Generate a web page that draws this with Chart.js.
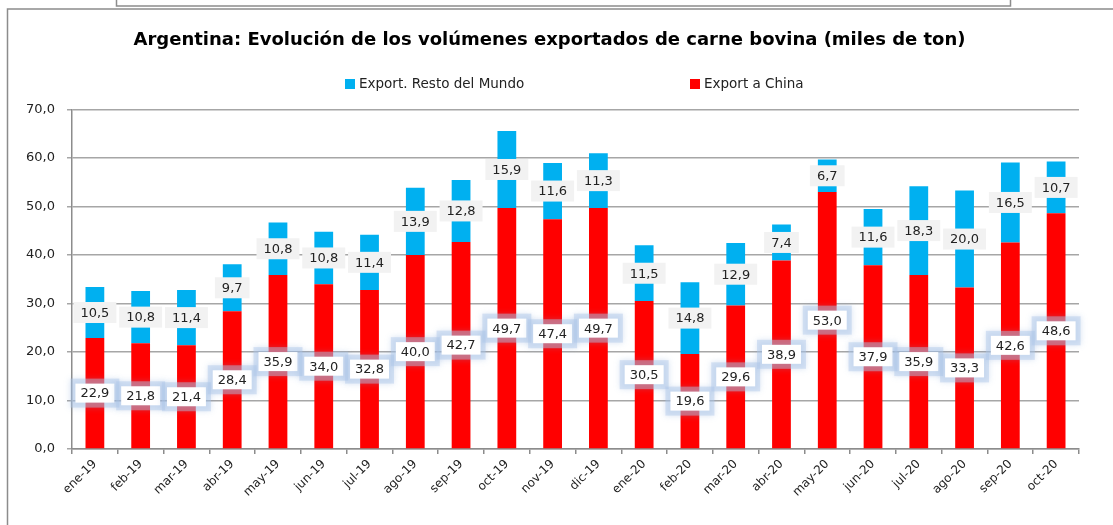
<!DOCTYPE html>
<html>
<head>
<meta charset="utf-8">
<script src="https://cdn.jsdelivr.net/npm/chart.js@4"></script>
<style>
  html, body { margin: 0; padding: 0; background: #fff; }
  #wrap { position: relative; width: 1113px; height: 525px; }
</style>
</head>
<body>
<div id="wrap"><canvas id="exportChart" width="1113" height="525"></canvas></div>
<script>
const months = ['ene-19', 'feb-19', 'mar-19', 'abr-19', 'may-19', 'jun-19', 'jul-19', 'ago-19', 'sep-19', 'oct-19', 'nov-19', 'dic-19',
                'ene-20', 'feb-20', 'mar-20', 'abr-20', 'may-20', 'jun-20', 'jul-20', 'ago-20', 'sep-20', 'oct-20'];
const exportChina = [22.9, 21.8, 21.4, 28.4, 35.9, 34.0, 32.8, 40.0, 42.7, 49.7, 47.4, 49.7,
                     30.5, 19.6, 29.6, 38.9, 53.0, 37.9, 35.9, 33.3, 42.6, 48.6];
const exportResto = [10.5, 10.8, 11.4, 9.7, 10.8, 10.8, 11.4, 13.9, 12.8, 15.9, 11.6, 11.3,
                     11.5, 14.8, 12.9, 7.4, 6.7, 11.6, 18.3, 20.0, 16.5, 10.7];
const yTicks = [0, 10, 20, 30, 40, 50, 60, 70];

const FONT = 'DejaVu Sans, Verdana, sans-serif';
const fmt = v => v.toFixed(1).replace('.', ',');

// frame, legend and value boxes
const decor = {
    id: 'decor',
    beforeDraw(chart) {
        const ctx = chart.ctx;
        ctx.save();
        ctx.fillStyle = '#fff';
        ctx.fillRect(0, 0, chart.width, chart.height);
        ctx.strokeStyle = '#8c8c8c';
        ctx.lineWidth = 1.5;
        ctx.strokeRect(7.5, 9, chart.width + 10, chart.height + 10);
        ctx.beginPath();
        ctx.moveTo(116.5, -2);
        ctx.lineTo(116.5, 6);
        ctx.lineTo(1010.5, 6);
        ctx.lineTo(1010.5, -2);
        ctx.stroke();
        ctx.restore();
    },
    afterDraw(chart) {
        const ctx = chart.ctx;
        ctx.save();
        // legend
        const items = [
            { ds: chart.data.datasets[1], x: 345 },
            { ds: chart.data.datasets[0], x: 690 }
        ];
        ctx.font = '13.5px ' + FONT;
        ctx.textBaseline = 'middle';
        ctx.textAlign = 'left';
        items.forEach(it => {
            ctx.fillStyle = it.ds.backgroundColor;
            ctx.fillRect(it.x, 79, 10, 10);
            ctx.fillStyle = '#222';
            ctx.fillText(it.ds.label, it.x + 14, 84.5);
        });

        // value labels
        ctx.font = '13px ' + FONT;
        ctx.textAlign = 'center';
        chart.data.datasets.forEach((ds, di) => {
            const meta = chart.getDatasetMeta(di);
            meta.data.forEach((bar, i) => {
                const cx = bar.x;
                const cy = (bar.y + bar.base) / 2;
                const txt = fmt(ds.data[i]);
                const w = ctx.measureText(txt).width + 10;
                if (di === 0) {
                    const h = 19;
                    ctx.save();
                    ctx.shadowColor = 'rgba(120,160,215,0.6)';
                    ctx.shadowBlur = 6;
                    ctx.fillStyle = 'rgba(175,200,232,0.45)';
                    ctx.fillRect(cx - w / 2 - 5, cy - h / 2 - 5, w + 10, h + 10);
                    ctx.restore();
                    ctx.fillStyle = '#fff';
                    ctx.fillRect(cx - w / 2, cy - h / 2, w, h);
                } else {
                    const h = 21;
                    ctx.fillStyle = '#f2f2f2';
                    ctx.fillRect(cx - w / 2 - 2, cy - h / 2, w + 4, h);
                }
                ctx.fillStyle = '#222';
                ctx.fillText(txt, cx, cy + 1);
            });
        });
        ctx.restore();
    }
};

new Chart(document.getElementById('exportChart').getContext('2d'), {
    type: 'bar',
    data: {
        labels: months,
        datasets: [{
            label: 'Export a China',
            data: exportChina,
            backgroundColor: '#ff0000',
            barPercentage: 0.41,
            categoryPercentage: 1.0
        }, {
            label: 'Export. Resto del Mundo',
            data: exportResto,
            backgroundColor: '#00b0f0',
            barPercentage: 0.41,
            categoryPercentage: 1.0
        }]
    },
    options: {
        responsive: false,
        animation: false,
        layout: {
            padding: { left: 20, right: 34, top: 0, bottom: 0 }
        },
        plugins: {
            legend: { display: false },
            tooltip: { enabled: false },
            title: {
                display: true,
                text: 'Argentina: Evolución de los volúmenes exportados de carne bovina (miles de ton)',
                color: '#000',
                font: { family: FONT, size: 18, weight: 'bold' },
                padding: { top: 30, bottom: 58 }
            }
        },
        scales: {
            x: {
                stacked: true,
                grid: {
                    drawOnChartArea: false,
                    drawTicks: true,
                    tickLength: 5,
                    color: '#8c8c8c',
                    lineWidth: 1.5
                },
                border: { color: '#8c8c8c', width: 1.5 },
                ticks: {
                    color: '#222',
                    font: { family: FONT, size: 12 },
                    maxRotation: 45,
                    minRotation: 45,
                    autoSkip: false
                },
                afterFit(scale) { scale.height = 76; }
            },
            y: {
                stacked: true,
                min: 0,
                max: 70,
                afterBuildTicks(scale) { scale.ticks = yTicks.map(v => ({ value: v })); },
                grid: {
                    color: '#a6a6a6',
                    lineWidth: 1.5,
                    tickLength: 5
                },
                border: { color: '#8c8c8c', width: 1.5 },
                ticks: {
                    color: '#222',
                    font: { family: FONT, size: 13 },
                    padding: 12,
                    callback: v => fmt(v)
                },
                afterFit(scale) { scale.width = 52; }
            }
        }
    },
    plugins: [decor]
});
</script>
</body>
</html>
